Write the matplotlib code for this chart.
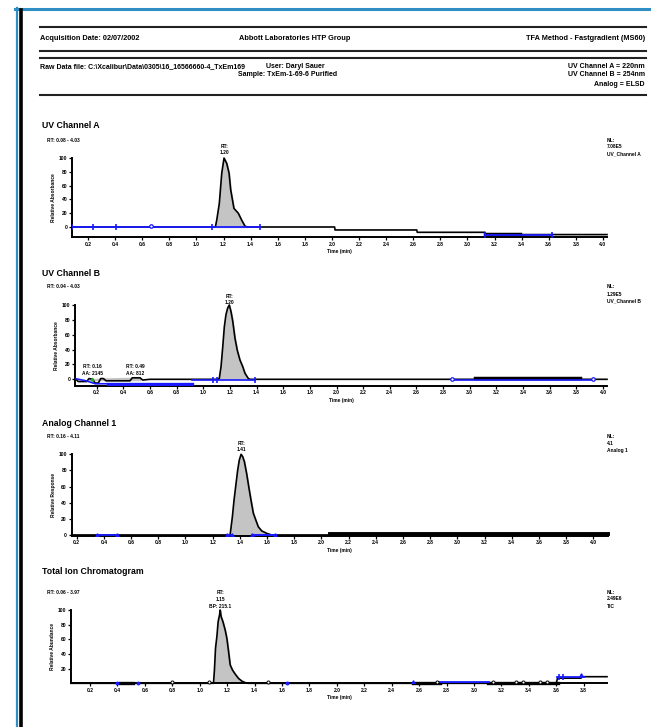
import matplotlib
matplotlib.use("Agg")
import matplotlib.pyplot as plt
from matplotlib.transforms import blended_transform_factory

plt.rcParams['font.family'] = ['Liberation Sans', 'DejaVu Sans']

W, H = 651, 727

# ---------------- data ----------------
panel_titles = ["UV Channel A", "UV Channel B", "Analog Channel 1", "Total Ion Chromatogram"]
ylabels = ["Relative Absorbance", "Relative Absorbance", "Relative Response", "Relative Abundance"]
range_texts = ["RT: 0.08 - 4.03", "RT: 0.04 - 4.03", "RT: 0.16 - 4.11", "RT: 0.06 - 3.97"]
nl_texts = ["NL:\n7.08E5\nUV_Channel A", "NL:\n1.29E5\nUV_Channel B", "NL:\n4.1\nAnalog 1", "NL:\n2.49E6\nTIC"]
peak_labels = ["RT:\n1.20", "RT:\n1.20", "RT:\n1.41", "RT:\n1.15\nBP: 215.1"]
peak_rt = [1.204, 1.195, 1.409, 1.149]
yticks_list = [[0, 20, 40, 60, 80, 100], [0, 20, 40, 60, 80, 100],
               [0, 20, 40, 60, 80, 100], [20, 40, 60, 80, 100]]
xticks_a = [0.2, 0.4, 0.6, 0.8, 1.0, 1.2, 1.4, 1.6, 1.8, 2.0, 2.2, 2.4, 2.6, 2.8, 3.0, 3.2, 3.4, 3.6, 3.8, 4.0]
xticks_d = [0.2, 0.4, 0.6, 0.8, 1.0, 1.2, 1.4, 1.6, 1.8, 2.0, 2.2, 2.4, 2.6, 2.8, 3.0, 3.2, 3.4, 3.6, 3.8]

# UV channel A trace
uva_t = [0.082, 1.140, 1.150, 1.169, 1.187, 1.204, 1.224, 1.241, 1.253, 1.277, 1.309, 1.334, 1.359, 1.380,
         2.020, 2.023, 2.626, 2.630, 3.130, 3.135, 4.030]
uva_y = [0, 0, 10, 34, 78, 100, 92, 78, 54, 27, 20, 10, 1, 0,
         0, -4.3, -4.3, -7.7, -7.7, -11, -11]
uva_peak_t = [1.140, 1.150, 1.169, 1.187, 1.204, 1.224, 1.241, 1.253, 1.277, 1.309, 1.334, 1.359, 1.380]
uva_peak_y = [0, 10, 34, 78, 100, 92, 78, 54, 27, 20, 10, 1, 0]

# UV channel B trace
uvb_t = [0.037, 0.062, 0.125, 0.142, 0.170, 0.187, 0.212, 0.230, 0.250, 0.270, 0.450, 0.467, 0.525, 0.545,
         0.600, 1.110, 1.120, 1.133, 1.146, 1.158, 1.170, 1.183, 1.195, 1.208, 1.221, 1.238, 1.255, 1.275,
         1.296, 1.313, 1.338, 1.350, 4.030]
uvb_y = [1, -3, -3, 1, 0, -5, -5, 1, 1, -2, -2, 2, 2, -1,
         0, 0, 1.3, 17, 44, 71, 87, 96, 100, 91, 78, 55, 39, 26,
         17, 8, 1, 0, 0]
uvb_peak_t = [1.110, 1.120, 1.133, 1.146, 1.158, 1.170, 1.183, 1.195, 1.208, 1.221, 1.238, 1.255, 1.275,
              1.296, 1.313, 1.338, 1.350]
uvb_peak_y = [0, 1.3, 17, 44, 71, 87, 96, 100, 91, 78, 55, 39, 26, 17, 8, 1, 0]
uvb_small_t = [0.142, 0.170, 0.230, 0.250, 0.467, 0.525]
uvb_small_y = [1, 0, 1, 1, 2, 2]
uvb_small_labels = ["RT: 0.16\nAA: 2145", "RT: 0.49\nAA: 812"]
uvb_small_rt = [0.165, 0.487]

# Analog channel 1 (ELSD) trace
elsd_t = [0.163, 1.320, 1.328, 1.345, 1.357, 1.372, 1.384, 1.396, 1.409, 1.421, 1.433, 1.450, 1.467, 1.482,
          1.499, 1.517, 1.536, 1.561, 1.598, 1.634, 4.108]
elsd_y = [0, 0, 0, 22.7, 43, 64, 80.5, 93, 100, 97, 91, 76, 58, 43,
          27, 18.6, 10, 5, 2, 0, 0]

# Total ion chromatogram
tic_t = [0.061, 1.095, 1.100, 1.107, 1.115, 1.125, 1.134, 1.144, 1.149, 1.156, 1.169, 1.185, 1.198, 1.209,
         1.222, 1.239, 1.258, 1.282, 1.307, 1.331, 1.350, 3.600, 3.609, 3.780, 3.790, 3.970]
tic_y = [0, 0, 0, 18, 48, 64, 84, 93, 100, 91, 84, 73, 61, 45,
         25, 18, 12.7, 6.8, 3, 1, 0, 0, 7, 7, 9, 9]
tic_marks_t = [0.796, 1.069, 1.499, 2.733, 3.142, 3.303, 3.361, 3.485, 3.536]

# ---------------- figure ----------------
fig = plt.figure(figsize=(W / 100, H / 100), dpi=100)
fig.patch.set_facecolor('white')

bg = fig.add_axes([0, 0, 1, 1], zorder=-5)
bg.set_xlim(0, W)
bg.set_ylim(H, 0)
bg.axis('off')
# page frame
bg.plot([15, W], [8.5, 8.5], color='#2f8fc4', lw=2.2)
bg.plot([16.5, 16.5], [8, H], color='#2f8fc4', lw=1.6)
bg.plot([20.5, 20.5], [9.5, H], color='black', lw=2.6)
# header rules
for yy in [27, 51, 58, 95]:
    bg.plot([40, 646], [yy, yy], color='#222222', lw=1.5)

def ftxt(x, y, s, size=5.3, ha='left', va='center', **kw):
    fig.text(x / W, 1 - y / H, s, fontsize=size, ha=ha, va=va, **kw)

HB = dict(fontweight='bold')
ftxt(40, 39, "Acquisition Date: 02/07/2002", **HB)
ftxt(295, 39, "Abbott Laboratories HTP Group", ha='center', **HB)
ftxt(645, 39, "TFA Method - Fastgradient (MS60)", ha='right', **HB)
ftxt(40, 67, "Raw Data file: C:\\Xcalibur\\Data\\0305\\16_16566660-4_TxEm169", size=5.0, **HB)
ftxt(266, 67, "User: Daryl Sauer", ha='left', size=5.0, **HB)
ftxt(337, 75, "Sample: TxEm-1-69-6 Purified", ha='right', size=5.0, **HB)
ftxt(645, 67, "UV Channel A = 220nm", ha='right', size=5.0, **HB)
ftxt(645, 75, "UV Channel B = 254nm", ha='right', size=5.0, **HB)
ftxt(645, 84, "Analog = ELSD", ha='right', size=5.0, **HB)

# panel geometry in pixels: x0, x1, ytop, ybot, ylim, xlim, title y
geo = [
    (72, 607, 158, 237, (-14.5, 100), (0.082, 4.03), 125),
    (75, 607, 305, 385.7, (-8.6, 100), (0.037, 4.03), 273),
    (71.7, 608, 454.3, 535.7, (-0.9, 100), (0.163, 4.108), 423),
    (71, 607, 610, 683.3, (0, 100), (0.061, 3.97), 572),
]

BLUE = '#1a1aff'
axes = []
for i, (x0, x1, yt, yb, yl, xl, ty) in enumerate(geo):
    ax = fig.add_axes([x0 / W, 1 - yb / H, (x1 - x0) / W, (yb - yt) / H])
    ax.set_xlim(*xl)
    ax.set_ylim(*yl)
    for s in ['top', 'right']:
        ax.spines[s].set_visible(False)
    for s in ['left', 'bottom']:
        ax.spines[s].set_linewidth(1.4)
    xt = xticks_d if i == 3 else xticks_a
    ax.set_xticks(xt)
    ax.set_xticklabels([f"{v:.1f}" for v in xt], fontsize=3.6, fontweight='bold')
    ax.set_yticks(yticks_list[i])
    ax.set_yticklabels([str(v) for v in yticks_list[i]], fontsize=3.6, fontweight='bold')
    ax.tick_params(axis='both', length=2.2, width=0.9, pad=1.2)
    ax.set_xlabel("Time (min)", fontsize=3.5, fontweight='bold', labelpad=1.5)
    ax.set_ylabel(ylabels[i], fontsize=3.5, fontweight='bold', labelpad=2)
    ftxt(42, ty, panel_titles[i], size=6.3, **HB)
    ftxt(47, yt - 18, range_texts[i], size=3.5, **HB)
    ftxt(607, yt - 11, nl_texts[i], size=3.5, va='center', linespacing=1.5, **HB)
    axes.append(ax)

def peak_label(ax, t, y_px, s):
    tr = blended_transform_factory(ax.transData, fig.transFigure)
    ax.text(t, 1 - y_px / H, s, transform=tr, fontsize=3.5, ha='center', va='center',
            linespacing=1.4, fontweight='bold', clip_on=False)

# --- UV A
ax = axes[0]
ax.fill_between(uva_peak_t, uva_peak_y, 0, color='#c4c4c4', zorder=1)
ax.plot(uva_t, uva_y, color='black', lw=1.2, zorder=3, clip_on=False)
ax.plot([0.082, 1.467], [0, 0], color=BLUE, lw=1.3, zorder=4)
ax.plot([0.082, 0.239, 0.406, 1.113, 1.467], [0, 0, 0, 0, 0], ls='none', marker='|', ms=4, mew=1.2, color=BLUE, zorder=5)
ax.plot([0.662], [1.5], ls='none', marker='o', ms=2.5, mfc='white', mec=BLUE, mew=0.9, zorder=5)
ax.plot([3.13, 3.388], [-10.5, -10.5], color='black', lw=2.5, zorder=3)
ax.plot([3.13, 3.625], [-11, -11], color=BLUE, lw=1.3, zorder=4, marker='|', ms=4, mew=1.2)
peak_label(ax, peak_rt[0], 149.5, peak_labels[0])

# --- UV B
ax = axes[1]
ax.fill_between(uvb_peak_t, uvb_peak_y, 0, color='#c4c4c4', zorder=1)
ax.fill_between(uvb_small_t, uvb_small_y, -1, color='#c4c4c4', zorder=1)
ax.plot(uvb_t, uvb_y, color='black', lw=1.2, zorder=3, clip_on=False)
ax.plot([0.037, 0.12, 0.19, 0.287], [1, -2, -6, -6], color=BLUE, lw=1.2, zorder=4)
ax.plot([0.287, 0.913], [-6, -6], color=BLUE, lw=2.4, zorder=4)
ax.plot([0.913, 1.388], [-1, -1], color=BLUE, lw=1.2, zorder=4)
ax.plot([1.075, 1.100, 1.388], [-1, -1, -1], ls='none', marker='|', ms=4, mew=1.2, color=BLUE, zorder=5)
ax.plot([0.162], [0], ls='none', marker='^', ms=2, color='#22aa22', zorder=5)
ax.plot([3.039, 3.827], [1.3, 1.3], color='black', lw=2.5, zorder=3)
ax.plot([2.866, 3.925], [-1, -1], color=BLUE, lw=1.2, zorder=4)
ax.plot([2.866, 3.925], [0.5, 0.5], ls='none', marker='o', ms=2.5, mfc='white', mec=BLUE, mew=0.9, zorder=5)
peak_label(ax, peak_rt[1], 299.5, peak_labels[1])
for t, s in zip(uvb_small_rt, uvb_small_labels):
    peak_label(ax, t, 370, s)

# --- Analog
ax = axes[2]
ax.fill_between(elsd_t, elsd_y, 0, color='#c4c4c4', zorder=1)
ax.plot(elsd_t, elsd_y, color='black', lw=1.2, zorder=3, clip_on=False)
ax.plot([2.063, 4.108], [0.6, 0.6], color='black', lw=2.8, zorder=3, clip_on=False)
ax.plot([0.347, 0.494], [0.5, 0.5], color=BLUE, lw=1.3, marker='^', ms=2.5, zorder=4)
ax.plot([1.307, 1.344], [0.5, 0.5], color=BLUE, lw=1.3, marker='^', ms=2.5, zorder=4)
ax.plot([1.49, 1.66], [0.5, 0.5], color=BLUE, lw=2.2, marker='^', ms=2.5, zorder=4)
peak_label(ax, peak_rt[2], 446.5, peak_labels[2])

# --- TIC
ax = axes[3]
ax.fill_between(tic_t[1:21], tic_y[1:21], 0, color='#c4c4c4', zorder=1)
ax.plot(tic_t, tic_y, color='black', lw=1.2, zorder=3, clip_on=False)
for a, b in [(0.42, 0.51), (2.558, 2.755), (3.10, 3.61)]:
    ax.plot([a, b], [0.8, 0.8], color='black', lw=2.4, zorder=3, clip_on=False)
ax.plot(tic_marks_t, [1.2] * len(tic_marks_t), ls='none', marker='o', ms=2.2, mfc='white', mec='black', mew=0.7, zorder=5, clip_on=False)
ax.plot([0.395, 0.550, 1.636], [0.8, 0.8, 0.8], ls='none', marker='o', ms=1.8, color=BLUE, zorder=5, clip_on=False)
ax.plot([2.558], [2.0], ls='none', marker='^', ms=2.5, color=BLUE, zorder=5)
ax.plot([2.74, 3.10], [1.5, 1.5], color=BLUE, lw=2.0, zorder=4)
ax.plot([3.609, 3.799], [9, 9], color=BLUE, lw=1.3, zorder=4)
ax.plot([3.62, 3.65], [9, 9], ls='none', marker='|', ms=4, mew=1.2, color=BLUE, zorder=5)
ax.plot([3.777], [11], ls='none', marker='^', ms=2.5, color=BLUE, zorder=5)
peak_label(ax, peak_rt[3], 599.5, peak_labels[3])

fig.savefig("out.png", dpi=100, facecolor='white')
